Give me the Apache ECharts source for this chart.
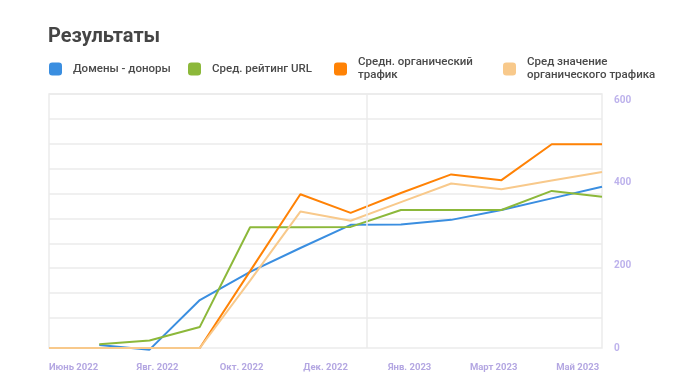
<!DOCTYPE html>
<html>
<head>
<meta charset="utf-8">
<script src="https://cdn.jsdelivr.net/npm/echarts@6/dist/echarts.min.js"></script>
<style>
html,body{margin:0;padding:0;background:#fff;}
#chart{width:696px;height:385px;}
</style>
</head>
<body>
<div id="chart"></div>
<script>
// Monthly data points (June 2022 – May 2023)
const categories = ['Июнь 2022','Июль 2022','Авг. 2022','Сент. 2022','Окт. 2022','Нояб. 2022','Дек. 2022','Янв. 2023','Февр. 2023','Март 2023','Апр. 2023','Май 2023'];
const tickLabels = ['Июнь 2022','Явг. 2022','Окт. 2022','Дек. 2022','Янв. 2023','Март 2023','Май 2023'];
const yTicks = [0, 200, 400, 600];

const seriesNames = ['Домены - доноры','Сред. рейтинг URL','Средн. органический\nтрафик','Сред значение\nорганического трафика'];
const donors     = [null, 7, -4, 116, 184, 242, 298, 299, 310, 334, 362, 390];
const rating     = [null, 9, 18, 51, 292, 292, 293, 334, 334, 334, 380, 366];
const traffic    = [0, 0, 0, 0, 186, 372, 327, 375, 420, 406, 493, 493];
const avgTraffic = [0, 0, 0, 0, 163, 330, 308, 353, 398, 384, 405, 426];

const colors = ['#3a8ee0', '#8cb83a', '#ff8205', '#f8c98b'];
const values = [donors, rating, traffic, avgTraffic];

const chart = echarts.init(document.getElementById('chart'), null, {renderer: 'canvas'});
const font = 'Roboto, "Noto Sans", sans-serif';
const gridColor = '#ebebeb';

const legendPos = [
  {left: 49, top: 62.5},
  {left: 188, top: 62.5},
  {left: 334, top: 56},
  {left: 503, top: 56}
];

const option = {
  animation: false,
  backgroundColor: '#fff',
  title: {
    text: 'Результаты',
    left: 48, top: 27, padding: 0,
    textStyle: {fontFamily: font, fontSize: 20, fontWeight: 700, color: '#454545'}
  },
  legend: seriesNames.map((n, i) => ({
    data: [n],
    left: legendPos[i].left, top: legendPos[i].top,
    padding: 0,
    icon: 'roundRect',
    itemWidth: 13, itemHeight: 13,
    selectedMode: false,
    textStyle: {fontFamily: font, fontSize: 11.5, fontWeight: 500, color: '#4a4a4a', lineHeight: 13, padding: [0, 0, 0, 6]}
  })),
  grid: [
    {left: 49, right: 94, top: 100, bottom: 37},
    {left: 49, right: 94, top: 94, bottom: 67},
    {left: 49, right: 94, top: 94, bottom: 37, show: true, borderColor: gridColor, borderWidth: 1.5, backgroundColor: 'transparent'},
    {left: 31.5, right: 76.3, top: 94, bottom: 37}
  ],
  xAxis: [
    {gridIndex: 0, type: 'category', data: categories, boundaryGap: false, show: false},
    {gridIndex: 1, type: 'value', min: 0, max: 1, show: false},
    {gridIndex: 2, type: 'value', min: 0, max: 11, show: false},
    {gridIndex: 3, type: 'category', data: tickLabels, boundaryGap: true,
      axisLine: {show: false}, axisTick: {show: false}, splitLine: {show: false},
      axisLabel: {interval: 0, margin: 15, color: '#b4a7e2', fontFamily: font, fontSize: 9.5, fontWeight: 700}}
  ],
  yAxis: [
    {gridIndex: 0, type: 'value', position: 'right', min: yTicks[0], max: yTicks[yTicks.length - 1], interval: 200,
      axisLine: {show: false}, axisTick: {show: false}, splitLine: {show: false},
      axisLabel: {margin: 12, color: '#bdb2ec', fontFamily: font, fontSize: 10, fontWeight: 700}},
    {gridIndex: 1, type: 'value', min: 0, max: 9, interval: 1,
      axisLine: {show: false}, axisTick: {show: false}, axisLabel: {show: false},
      splitLine: {show: true, lineStyle: {color: gridColor, width: 1.5}}},
    {gridIndex: 2, type: 'value', min: 0, max: 1, show: false},
    {gridIndex: 3, type: 'value', min: 0, max: 1, show: false}
  ],
  series: [
    {
      type: 'line', xAxisIndex: 2, yAxisIndex: 2, data: [], silent: true,
      markLine: {symbol: 'none', silent: true, label: {show: false},
        lineStyle: {color: gridColor, width: 1.5, type: 'solid'},
        data: [{xAxis: 6.33}]}
    }
  ].concat(seriesNames.map((n, i) => ({
    name: n,
    type: 'line',
    xAxisIndex: 0, yAxisIndex: 0,
    data: values[i],
    symbol: 'none',
    clip: false,
    color: colors[i],
    lineStyle: {width: 2, color: colors[i]}
  })))
};
chart.setOption(option);
</script>
</body>
</html>
